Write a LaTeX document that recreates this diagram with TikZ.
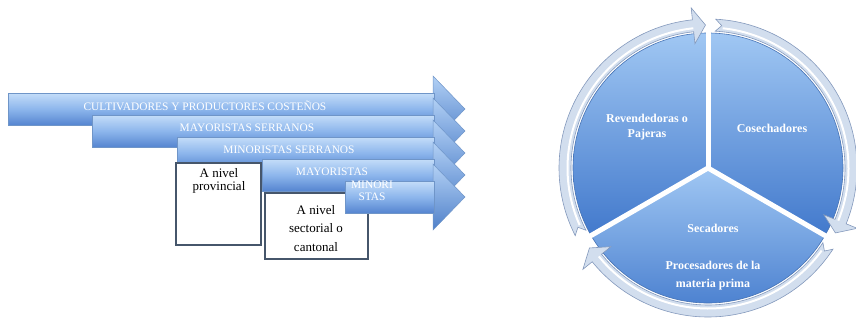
\documentclass[tikz,border=0pt]{standalone}
\usepackage{fontspec}
\setmainfont{Liberation Serif}
\definecolor{arrtop}{HTML}{C4DDF9}
\definecolor{arrmid}{HTML}{8DB6EC}
\definecolor{arrbot}{HTML}{5585D0}
\definecolor{arredge}{HTML}{6F95C8}
\definecolor{headtop}{HTML}{B3D1F5}
\definecolor{headbot}{HTML}{4F80C9}
\definecolor{boxedge}{HTML}{46566B}
\definecolor{sectop}{HTML}{A0C7F3}
\definecolor{secbot}{HTML}{4279CC}
\definecolor{secedge}{HTML}{4673B5}
\definecolor{ringfill}{HTML}{D2DEEE}
\definecolor{ringedge}{HTML}{8499BC}
\tikzset{
  arrbody/.style={top color=arrtop, bottom color=arrbot, middle color=arrmid, draw=arredge, line width=0.5pt},
  arrhead/.style={top color=headtop, bottom color=headbot, draw=arredge, line width=0.5pt},
  arrtext/.style={text=white, font=\fontsize{11.4}{12}\selectfont, inner sep=0pt, align=center},
  lvlbox/.style={draw=boxedge, line width=1.3pt, fill=white},
  boxtext/.style={font=\fontsize{13}{13}\selectfont, align=center, inner sep=0pt},
  sector/.style={top color=sectop, bottom color=secbot, draw=secedge, line width=0.6pt},
  gapline/.style={draw=white, line width=5pt},
  ringband/.style={fill=ringfill, draw=ringedge, line width=0.6pt},
  ringshine/.style={draw=white, line width=2pt},
  sectext/.style={text=white, font=\bfseries\fontsize{12}{15}\selectfont, align=center, inner sep=0pt},
}
\newcommand\flowarrow[2]{%
  \path[arrhead] (433,#2-33) -- (465,#2) -- (433,#2+33) -- cycle;
  \path[arrbody] (#1,#2-16) rectangle (434,#2+16);
}
% tail angle, base angle, tip angle (tikz angles, y flipped)
\newcommand\ringarr[3]{%
  \path[ringband] (#1:149) arc[start angle=#1, end angle=#2, radius=149]
    -- (#2:161) -- (#3:143) -- (#2:125) -- (#2:137)
    arc[start angle=#2, end angle=#1, radius=137] -- ({#1+2.5}:143) -- cycle;
  \path[ringshine] ({#1+3}:140.5) arc[start angle={#1+3}, end angle=#2, radius=140.5];
}
\begin{document}
\begin{tikzpicture}[x=1pt, y=-1pt]
\useasboundingbox (0,0) rectangle (856,324);

% ---------- left: flow arrows ----------
\flowarrow{8}{109}
\node[arrtext] (t1) at (205,106) {CULTIVADORES Y PRODUCTORES COSTEÑOS};
\flowarrow{92}{131}
\node[arrtext] (t2) at (247,128) {MAYORISTAS SERRANOS};
\flowarrow{177}{153}
\node[arrtext] (t3) at (289,150) {MINORISTAS SERRANOS};
\path[lvlbox] (176,163) rectangle (261,245);
\node[boxtext] (b1) at (219,180.5) {A nivel\\provincial};
\flowarrow{262}{175}
\node[arrtext] (t4) at (332,172) {MAYORISTAS};
\path[lvlbox] (265,193) rectangle (368,259);
\node[boxtext, font=\fontsize{13}{18.5}\selectfont] (b2) at (316,228.5) {A nivel\\sectorial o\\cantonal};
\flowarrow{345}{197}
\node[arrtext] (t5) at (372,191) {MINORI\\STAS};

% ---------- right: cycle ----------
\begin{scope}[shift={(708,168)}]
  \path[sector] (0,0) -- (-90:135) arc[start angle=-90, end angle=30, radius=135] -- cycle;
  \path[sector] (0,0) -- (-90:135) arc[start angle=-90, end angle=-210, radius=135] -- cycle;
  \path[sector] (0,0) -- (30:135) arc[start angle=30, end angle=150, radius=135] -- cycle;
  \path[gapline] (0,0) -- (-90:137);
  \path[gapline] (0,0) -- (30:137);
  \path[gapline] (0,0) -- (150:137);
  \ringarr{-207}{-96}{-91}
  \ringarr{-87}{22}{27}
  \ringarr{33}{141}{146}
\end{scope}
\node[sectext] (s1) at (647,127) {Revendedoras o\\Pajeras};
\node[sectext] (s2) at (772,128) {Cosechadores};
\node[sectext] (s3) at (713,228) {Secadores};
\node[sectext, font=\bfseries\fontsize{12}{18}\selectfont] (s4) at (713,276) {Procesadores de la\\materia prima};
\end{tikzpicture}
\end{document}
